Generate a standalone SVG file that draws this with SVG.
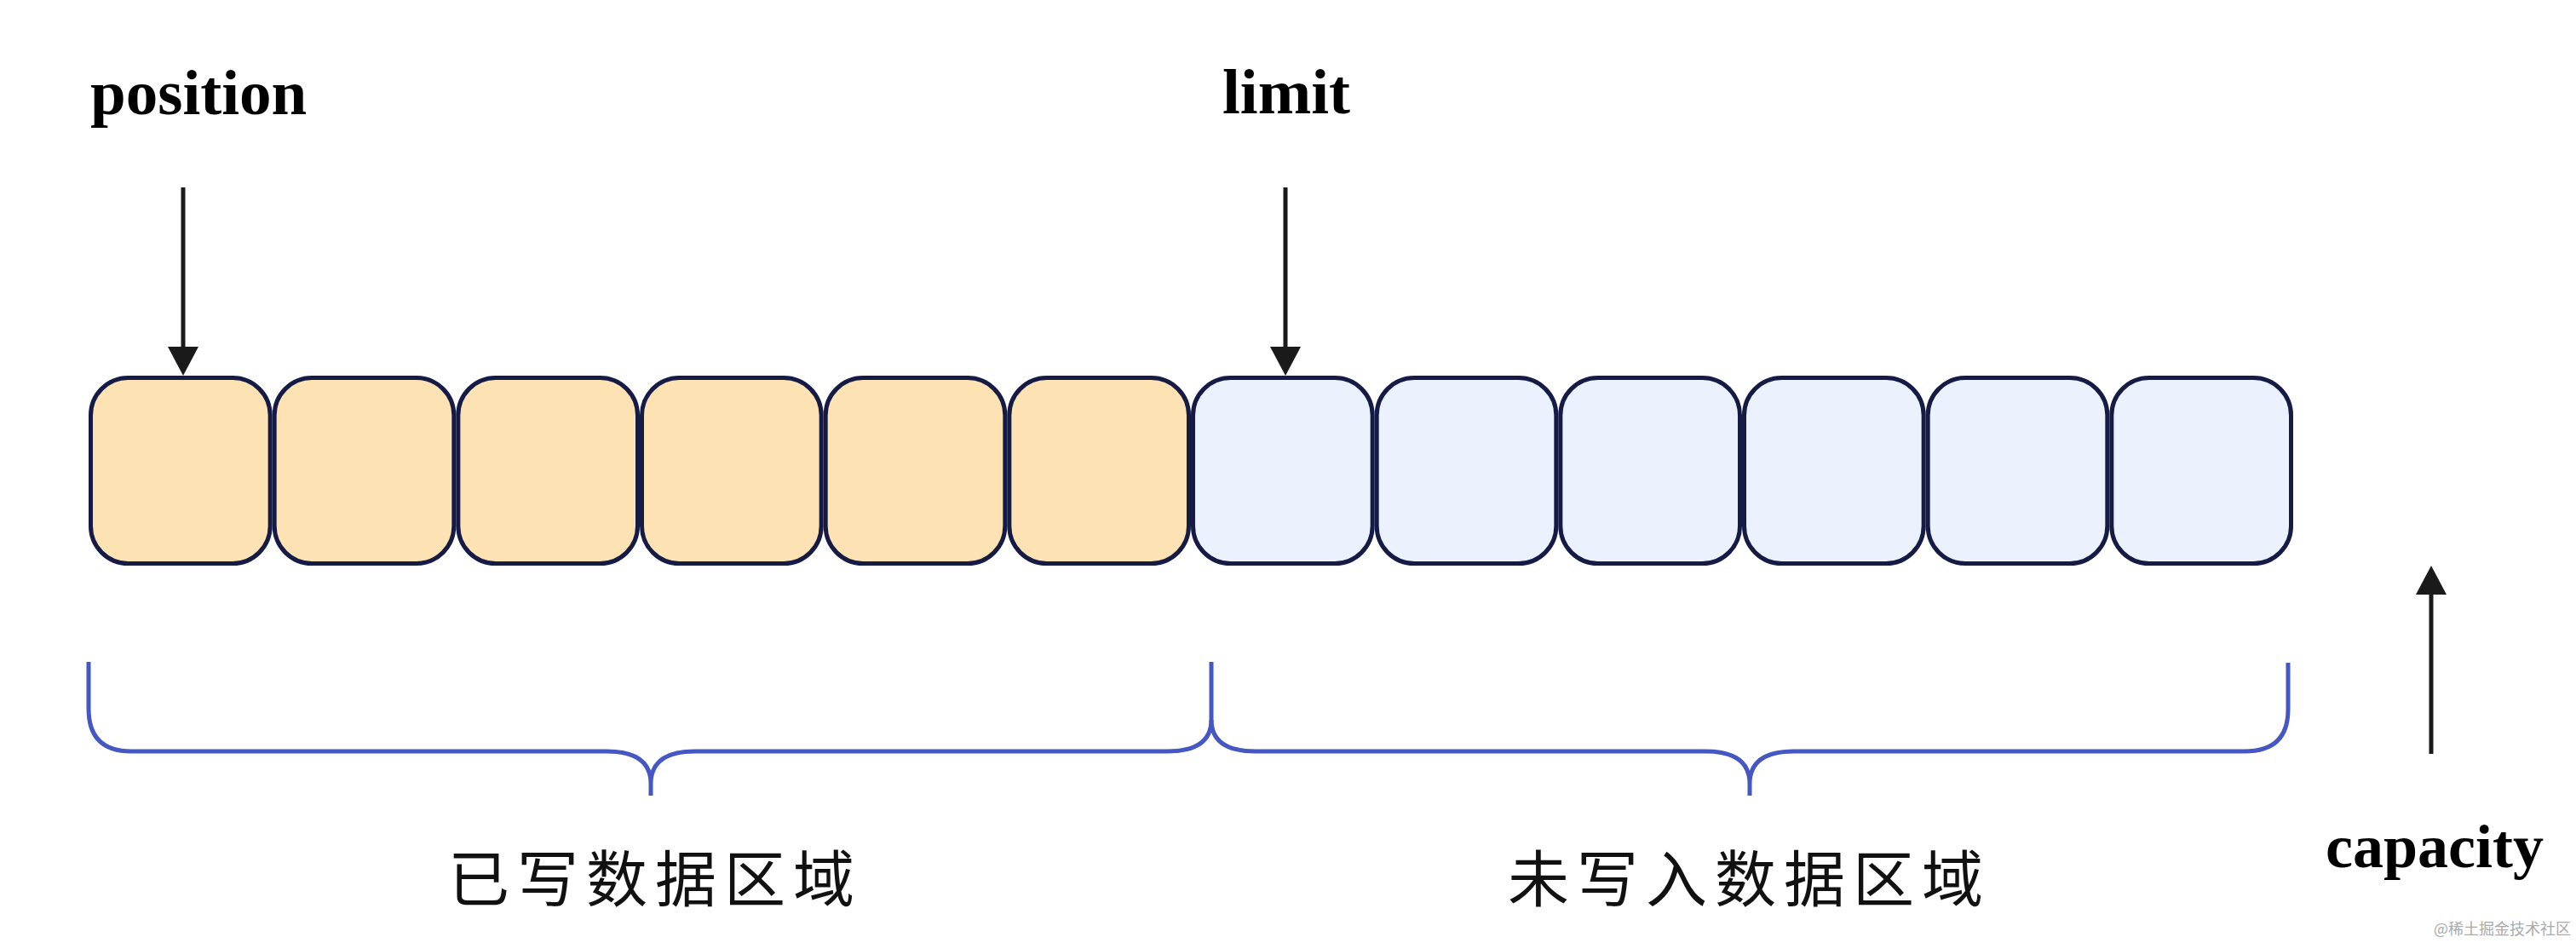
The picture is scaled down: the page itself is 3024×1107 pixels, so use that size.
<svg xmlns="http://www.w3.org/2000/svg" width="3024" height="1107" viewBox="0 0 3024 1107">
  <style>
    .cell { stroke: #161b46; stroke-width: 5; }
    .written { fill: #fde2b4; }
    .free { fill: #ebf2fd; }
    .lbl { font-family: "Liberation Serif", "Times New Roman", serif; font-weight: bold; fill: #000; }
    .zh { font-family: "Noto Sans CJK SC", sans-serif; font-size: 72px; letter-spacing: 9px; fill: #111; }
    .arrow { stroke: #1a1a1a; stroke-width: 5; fill: none; }
    .brace { stroke: #4557c3; stroke-width: 5; fill: none; }
    .wm { font-family: "Noto Sans CJK SC", sans-serif; font-size: 18px; fill: #aaaaaa; }
  </style>
  <defs>
    <marker id="head" markerUnits="userSpaceOnUse" markerWidth="34" markerHeight="36" refX="0" refY="18" orient="auto">
      <path d="M0,0 L34,18 L0,36 Z" fill="#1a1a1a"/>
    </marker>
  </defs>
  <rect width="3024" height="1107" fill="#ffffff"/>

  <g id="cells">
    <g id="cell0"><rect class="cell written" x="106.5" y="443.5" width="210.67" height="218" rx="44"/></g>
    <g id="cell1"><rect class="cell written" x="322.17" y="443.5" width="210.67" height="218" rx="44"/></g>
    <g id="cell2"><rect class="cell written" x="537.83" y="443.5" width="210.67" height="218" rx="44"/></g>
    <g id="cell3"><rect class="cell written" x="753.5" y="443.5" width="210.67" height="218" rx="44"/></g>
    <g id="cell4"><rect class="cell written" x="969.17" y="443.5" width="210.67" height="218" rx="44"/></g>
    <g id="cell5"><rect class="cell written" x="1184.83" y="443.5" width="210.67" height="218" rx="44"/></g>
    <g id="cell6"><rect class="cell free" x="1400.5" y="443.5" width="210.67" height="218" rx="44"/></g>
    <g id="cell7"><rect class="cell free" x="1616.17" y="443.5" width="210.67" height="218" rx="44"/></g>
    <g id="cell8"><rect class="cell free" x="1831.83" y="443.5" width="210.67" height="218" rx="44"/></g>
    <g id="cell9"><rect class="cell free" x="2047.5" y="443.5" width="210.67" height="218" rx="44"/></g>
    <g id="cell10"><rect class="cell free" x="2263.17" y="443.5" width="210.67" height="218" rx="44"/></g>
    <g id="cell11"><rect class="cell free" x="2478.83" y="443.5" width="210.67" height="218" rx="44"/></g>
  </g>

  <g id="position"><text class="lbl" x="106" y="134" font-size="75">position</text></g>
  <g id="limit"><text class="lbl" x="1435" y="133" font-size="75">limit</text></g>
  <g id="capacity"><text class="lbl" x="2730" y="1018" font-size="72">capacity</text></g>

  <g id="connectors">
    <line class="arrow" x1="215" y1="220" x2="215" y2="407" marker-end="url(#head)"/>
    <line class="arrow" x1="1509" y1="220" x2="1509" y2="407" marker-end="url(#head)"/>
    <line class="arrow" x1="2854" y1="885" x2="2854" y2="698" marker-end="url(#head)"/>
  </g>

  <g id="written-region">
    <path class="brace" d="M104,777 V832 Q104,882 154,882 H712 Q764,882 764,920 V934 M764,920 Q764,882 816,882 H1370 Q1422,882 1422,845 V777"/>
    <text class="zh" x="526" y="1058">已写数据区域</text>
  </g>
  <g id="free-region">
    <path class="brace" d="M1422,845 Q1422,882 1474,882 H2002 Q2054,882 2054,920 V934 M2054,920 Q2054,882 2106,882 H2635 Q2686,882 2686,833 V778"/>
    <text class="zh" x="1770" y="1058">未写入数据区域</text>
  </g>

  <text class="wm" x="2857" y="1097">@稀土掘金技术社区</text>
</svg>
